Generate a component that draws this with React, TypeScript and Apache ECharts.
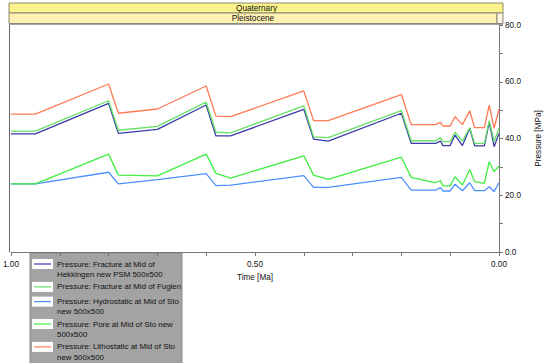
import React, { useEffect, useRef } from "react";
import * as echarts from "echarts";

// Time in Ma (x axis, reversed), pressure in MPa
const timesMain = [1.0, 0.95, 0.8, 0.78, 0.7, 0.6, 0.58, 0.55, 0.4, 0.38, 0.35, 0.2, 0.18, 0.13, 0.12, 0.115, 0.1, 0.09, 0.075, 0.06, 0.05, 0.03, 0.02, 0.01, 0.0];

const fractureHekkingen = [41.6, 41.6, 52.4, 41.8, 43.2, 51.8, 40.9, 40.9, 50.3, 39.8, 39.1, 48.9, 38.3, 38.3, 39.1, 37.5, 37.5, 41.2, 37.5, 43.6, 37.4, 37.4, 45.8, 37.1, 41.8];
const fractureFuglen = [42.6, 42.6, 53.3, 42.9, 44.3, 52.8, 42.2, 42.0, 51.5, 40.6, 40.3, 49.8, 39.2, 39.2, 40.3, 38.9, 38.9, 42.2, 39.1, 43.8, 38.3, 38.3, 46.3, 38.9, 43.6];
const hydrostatic = [24.0, 24.0, 28.1, 24.0, 25.5, 27.6, 23.4, 23.6, 26.9, 22.8, 22.8, 26.3, 21.8, 21.8, 22.7, 21.5, 21.5, 23.9, 21.6, 24.4, 21.6, 21.6, 23.0, 21.3, 24.4];
const pore = [24.0, 24.0, 34.5, 27.1, 26.8, 34.5, 27.7, 26.0, 33.9, 27.1, 25.6, 33.4, 26.3, 24.4, 25.2, 23.3, 23.3, 26.5, 23.6, 29.1, 24.8, 24.2, 31.8, 28.3, 30.3];
const lithostatic = [48.6, 48.6, 59.2, 48.9, 50.4, 58.5, 47.9, 47.7, 56.8, 46.3, 46.3, 55.5, 44.9, 44.9, 45.7, 44.4, 44.4, 47.7, 44.9, 49.8, 43.8, 43.8, 51.8, 43.6, 50.3];

const seriesNames = [
  "Pressure: Fracture at Mid of Hekkingen new PSM 500x500",
  "Pressure: Fracture at Mid of Fuglen",
  "Pressure: Hydrostatic at Mid of Sto new 500x500",
  "Pressure: Pore at Mid of Sto new 500x500",
  "Pressure: Lithostatic at Mid of Sto new 500x500",
];
const legendLines = [
  ["Pressure: Fracture at Mid of", "Hekkingen new PSM 500x500"],
  ["Pressure: Fracture at Mid of Fuglen"],
  ["Pressure: Hydrostatic at Mid of Sto", "new 500x500"],
  ["Pressure: Pore at Mid of Sto new", "500x500"],
  ["Pressure: Lithostatic at Mid of Sto", "new 500x500"],
];
const seriesValues = [fractureHekkingen, fractureFuglen, hydrostatic, pore, lithostatic];
const seriesColors = ["#3a3aaa", "#66e066", "#4d90ff", "#40ee40", "#ff7a55"];

const eraLabel = "Quaternary";
const epochLabel = "Pleistocene";
const xAxisName = "Time [Ma]";
const yAxisName = "Pressure [MPa]";

const FONT = "Liberation Sans, Arial, sans-serif";
const FS = 7.9;

export default function App() {
  const ref = useRef<HTMLDivElement>(null);
  useEffect(() => {
    if (!ref.current) return;
    const chart = echarts.init(ref.current, null, { renderer: "svg" });
    const gl = 9, gr = 504, gt = 25, gb = 252;

    const graphics: any[] = [
      { type: "rect", shape: { x: gl, y: 3, width: gr - gl - 1, height: 10 }, style: { fill: "#fcf38c", stroke: "#8a8a70", lineWidth: 1 } },
      { type: "text", x: (gl + gr) / 2, y: 8.5, style: { text: eraLabel, font: `8.2px ${FONT}`, fill: "#111", align: "center", verticalAlign: "middle" } },
      { type: "rect", shape: { x: gl, y: 13, width: gr - gl - 7, height: 10.5 }, style: { fill: "#fff0b4", stroke: "#8a8a70", lineWidth: 1 } },
      { type: "rect", shape: { x: gr - 7, y: 13, width: 6, height: 10.5 }, style: { fill: "#fef2e0", stroke: "#8a8a70", lineWidth: 1 } },
      { type: "line", shape: { x1: gl, y1: 24, x2: gr - 1, y2: 24 }, style: { stroke: "#888", lineWidth: 1.5 } },
      { type: "text", x: (gl + gr - 7) / 2, y: 18.5, style: { text: epochLabel, font: `8.2px ${FONT}`, fill: "#111", align: "center", verticalAlign: "middle" } },
      { type: "rect", shape: { x: 30, y: 253, width: 152, height: 115 }, style: { fill: "#a3a3a3", stroke: "#8c8c8c", lineWidth: 1 } },
    ];
    const lineH = 10.2;
    const gaps = [2.5, 4.5, 2, 2.5, 2];
    let cy = 264;
    legendLines.forEach((lines, i) => {
      graphics.push({ type: "rect", shape: { x: 32, y: cy - 5, width: 21, height: 10 }, style: { fill: "#ffffff" } });
      graphics.push({ type: "line", shape: { x1: 34, y1: cy, x2: 51, y2: cy }, style: { stroke: seriesColors[i], lineWidth: 1.2 } });
      lines.forEach((t, j) => {
        graphics.push({ type: "text", x: 57, y: cy + j * lineH, style: { text: t, font: `${FS}px ${FONT}`, fill: "#111", align: "left", verticalAlign: "middle" } });
      });
      cy += lines.length * lineH + gaps[i];
    });

    chart.setOption({
      animation: false,
      backgroundColor: "#ffffff",
      grid: { left: gl, right: 550 - gr, top: gt, bottom: 363 - gb, containLabel: false },
      xAxis: {
        type: "value",
        inverse: true,
        min: 0,
        max: 1,
        interval: 0.1,
        name: xAxisName,
        nameLocation: "middle",
        nameGap: 21,
        nameTextStyle: { fontSize: 8.2, fontFamily: FONT, color: "#111" },
        axisLine: { show: true, onZero: false, lineStyle: { color: "#777", width: 1 } },
        axisTick: { show: true, length: 4, lineStyle: { color: "#777" } },
        axisLabel: {
          fontSize: 8.2,
          fontFamily: FONT,
          color: "#111",
          margin: 8,
          formatter: (v: number) => (Math.round(v * 100) % 50 === 0 ? v.toFixed(2) : ""),
        },
        splitLine: { show: false },
      },
      yAxis: {
        type: "value",
        position: "right",
        min: 0,
        max: 80,
        interval: 10,
        name: yAxisName,
        nameLocation: "middle",
        nameRotate: 90,
        nameGap: 35,
        nameTextStyle: { fontSize: 8.2, fontFamily: FONT, color: "#111" },
        axisLine: { show: true, lineStyle: { color: "#777", width: 1 } },
        axisTick: { show: true, length: 4, lineStyle: { color: "#777" } },
        axisLabel: {
          fontSize: 8.2,
          fontFamily: FONT,
          color: "#111",
          margin: 6,
          formatter: (v: number) => (Math.round(v) % 20 === 0 ? v.toFixed(1) : ""),
        },
        splitLine: { show: false },
      },
      graphic: [
        ...graphics,
        { type: "line", shape: { x1: gl + 0.5, y1: gt, x2: gl + 0.5, y2: gb }, style: { stroke: "#666", lineWidth: 1 } },
      ],
      series: seriesValues.map((vals, i) => ({
        name: seriesNames[i],
        type: "line",
        symbol: "none",
        z: i === 1 ? 6 : 3 + i * 0.1,
        lineStyle: { color: seriesColors[i], width: 1.3 },
        data: timesMain.map((t, k) => [t, vals[k]]),
      })),
    });
    return () => chart.dispose();
  }, []);
  return <div ref={ref} style={{ width: 550, height: 363, position: "absolute", left: 0, top: 0 }} />;
}
